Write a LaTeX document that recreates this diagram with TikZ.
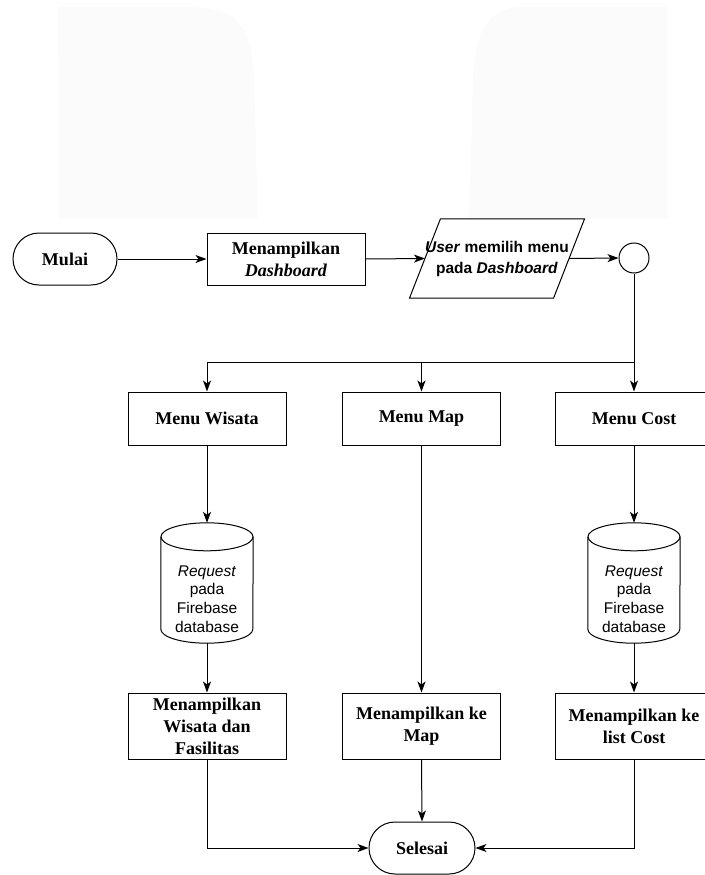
\documentclass[tikz,border=0pt]{standalone}
\usepackage{fontspec}
\setmainfont{Liberation Serif}
\newfontfamily\sansf{Liberation Sans}
\usetikzlibrary{shapes.geometric, arrows.meta, calc}
\definecolor{ghost}{RGB}{251,251,251}
\begin{document}
\begin{tikzpicture}[x=1pt,y=-1pt,
  every node/.style={font=\bfseries\fontsize{18}{22}\selectfont, align=center, inner sep=0pt},
  box/.style={draw, line width=1pt, minimum width=158pt, minimum height=53pt},
  term/.style={draw, line width=1pt, rounded corners=26pt, minimum width=104pt, minimum height=52pt},
  ghostbox/.style={minimum width=92pt, minimum height=120pt},
  sanstext/.style={font=\sansf\fontsize{15.5}{18.7}\selectfont},
  line/.style={line width=1pt},
  arr/.style={line width=1pt, -{Stealth[length=11pt,width=8pt,inset=3pt]}},
]
\useasboundingbox (0,0) rectangle (704,875);

% faint background shapes
\fill[ghost] (58,7) -- (190,7) .. controls (240,7) and (253,30) .. (254,80) -- (258,218) -- (59,218) -- cycle;
\fill[ghost] (667,7) -- (523,7) .. controls (485,7) and (474,35) .. (473,83) -- (469,218) -- (667,218) -- cycle;

% top row
\node[term] (start) at (65,259) {Mulai};
\node[box, minimum height=52pt] (dash) at (286,259) {Menampilkan\\\textit{Dashboard}};
\node[minimum width=127pt, minimum height=79pt, font=\sansf\bfseries\fontsize{15.5}{21}\selectfont] (pilih) at (497,258.5) {\textit{User} memilih menu\\pada \textit{Dashboard}};
\draw[line] ($(pilih.north west)+(15.5,0)$) -- ($(pilih.north east)+(15.5,0)$) -- ($(pilih.south east)+(-15.5,0)$) -- ($(pilih.south west)+(-15.5,0)$) -- cycle;
\node[circle, draw, line width=1pt, minimum size=30pt] (c) at (634,258) {};
\coordinate (br) at (634,362);

% menu row
\node[box] (mw) at (207,418.5) {Menu Wisata};
\node[box] (mm) at (421.5,418.5) {Menu Map};
\node[box] (mc) at (634,418.5) {Menu Cost};

% cylinders
\node[ghostbox] (cw) at (207,583) {};
\node[ghostbox] (cc) at (634,583) {};
\foreach \cyl in {cw,cc}{
  \draw[line] ($(\cyl.north west)+(0,14)$) -- ($(\cyl.south west)+(0,-14)$) arc[start angle=180, end angle=360, x radius=46pt, y radius=14pt] -- ($(\cyl.north east)+(0,14)$);
  \draw[line] ($(\cyl.north)+(0,14)$) ellipse [x radius=46pt, y radius=14pt];
}
\node[sanstext] (cwt) at (207,599) {\textit{Request}\\pada\\Firebase\\database};
\node[sanstext] (cct) at (634,599) {\textit{Request}\\pada\\Firebase\\database};

% result row
\node[box, minimum height=66pt] (dw) at (207,726) {Menampilkan\\Wisata dan\\Fasilitas};
\node[box, minimum height=66pt] (dm) at (421.5,726) {Menampilkan ke\\Map};
\node[box, minimum height=66pt] (dc) at (634,726) {Menampilkan ke\\list Cost};

\node[term, minimum width=106pt] (end) at (422,848) {Selesai};

% connectors
\draw[arr] (start.east) -- (dash.west);
\draw[arr] (dash.east) -- (pilih.west);
\draw[arr] (pilih.east) -- (c.west);
\draw[arr] (c.south) -- (mc.north);
\draw[arr] (c.south |- br) -| (mw.north);
\draw[arr] (mm.north |- br) -- (mm.north);
\draw[arr] (mw.south) -- (cw.north);
\draw[arr] (cw.south) -- (dw.north);
\draw[arr] (mm.south) -- (dm.north);
\draw[arr] (mc.south) -- (cc.north);
\draw[arr] (cc.south) -- (dc.north);
\draw[arr] (dw.south) |- (end.west);
\draw[arr] (dm.south) -- (end.north);
\draw[arr] (dc.south) |- (end.east);
\end{tikzpicture}
\end{document}
